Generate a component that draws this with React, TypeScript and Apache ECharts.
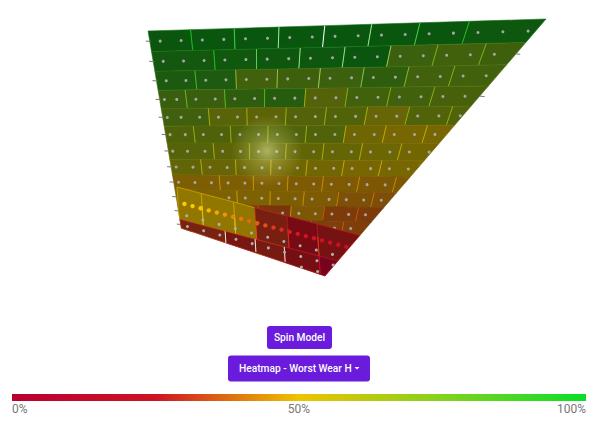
import React, { useEffect, useRef } from "react";
import * as echarts from "echarts";

// Wear (%) per brick, one list per tread row of the flat part of the mesh
const upperWear: number[][] = [
  [96, 97, 97, 97, 97, 97, 96, 95],
  [92, 93, 94, 95, 96, 75, 72, 74],
  [88, 87, 72, 74, 75, 80, 72, 72],
  [76, 76, 80, 84, 65, 72, 72, 70],
  [73, 63, 62, 65, 66, 58, 66, 66],
  [67, 67, 66, 66, 66, 55, 52, 52],
  [64, 62, 62, 60, 59, 56, 54, 52],
  [60, 58, 57, 55, 54, 52, 52, 50],
  [47, 47, 47, 46, 46, 45, 45, 42],
  [48, 48, 47, 46, 43, 42, 42, 40],
  [35, 35, 35, 35, 45, 37, 37, 37],
  [38, 38, 38, 38, 38, 38, 38, 38],
];
const upperFirstBrick = [2, 3, 2, 2, 3, 2, 3, 2, 3, 3, 2, 3];
const upperRowShift = [0, 0, 0, -0.6, -0.5, -0.4, -0.4, -0.2, -0.2, 0.8, -0.9, -0.6];
const rightTickRows = [1.5, 3.5];

// Folded lower part of the mesh
const lowerBrickStart = [0, 3, 7, 9.6, 13.6, 17.3, 0, 5.7, 9.4, 13, 17.3, 20];
const lowerBrickEnd = [3, 7, 9.6, 13.6, 17.3, 24, 5.7, 9.4, 13, 17.3, 20, 24];
const lowerBrickBand = [0, 0, 0, 0, 0, 0, 1, 1, 1, 1, 1, 1];
const lowerBrickWear = [50, 50, 50, 30, 25, 27, 31, 28, 29, 26, 9, 8];

// Highlighted sensor row along the fold
const sensorWear = [50, 50, 49, 47, 45, 42, 40, 38, 36, 35, 33, 30, 28, 26, 24, 22, 20, 18, 16, 15, 14];
const lowerDotRows = [2.5, 3.5, 4.5, 5.5];

const scaleStops: [number, number[]][] = [
  [0, [185, 0, 50]],
  [0.25, [205, 20, 35]],
  [0.5, [238, 195, 0]],
  [0.75, [130, 210, 30]],
  [1, [10, 222, 40]],
];
const scaleLabels = ["0%", "50%", "100%"];
const W = 600;
const H = 425;

type P = [number, number];
const upperQuad: P[] = [[148, 31], [546, 19], [450, 238], [182, 231]];
const lowerQuad: P[] = [[177, 187], [347, 232], [351, 296], [181, 251]];
const leftEdge: [P, P] = [[146.5, 22], [182, 232]];
const rightEdge: [P, P] = [[546, 19], [325, 276]];
const bottomEdge: [P, P] = [[181, 228], [325, 276]];

function homography(q: P[]) {
  const [[x0, y0], [x1, y1], [x2, y2], [x3, y3]] = q;
  const dx1 = x1 - x2, dx2 = x3 - x2, sx = x0 - x1 + x2 - x3;
  const dy1 = y1 - y2, dy2 = y3 - y2, sy = y0 - y1 + y2 - y3;
  const det = dx1 * dy2 - dx2 * dy1;
  const g = (sx * dy2 - dx2 * sy) / det;
  const h = (dx1 * sy - sx * dy1) / det;
  const a = x1 - x0 + g * x1, b = x3 - x0 + h * x3;
  const d = y1 - y0 + g * y1, e = y3 - y0 + h * y3;
  return (s: number, t: number): P => {
    const w = g * s + h * t + 1;
    return [(a * s + b * t + x0) / w, (d * s + e * t + y0) / w];
  };
}
const upperBase = homography(upperQuad);
const upperH = (s: number, t: number): P => upperBase(s, t - 0.13 * t * (1 - t));
const lowerH = homography(lowerQuad);

const side = (p: P, e: [P, P]) =>
  (e[1][0] - e[0][0]) * (p[1] - e[0][1]) - (e[1][1] - e[0][1]) * (p[0] - e[0][0]);

// Keep the part of a polygon on the positive side of the edge
function clip(poly: P[], e: [P, P], sign: number): P[] {
  const out: P[] = [];
  for (let i = 0; i < poly.length; i++) {
    const a = poly[i], b = poly[(i + 1) % poly.length];
    const sa = side(a, e) * sign, sb = side(b, e) * sign;
    if (sa >= 0) out.push(a);
    if (sa >= 0 !== sb >= 0) {
      const k = sa / (sa - sb);
      out.push([a[0] + (b[0] - a[0]) * k, a[1] + (b[1] - a[1]) * k]);
    }
  }
  return out;
}
const clipMesh = (poly: P[]) => clip(clip(clip(poly, rightEdge, 1), bottomEdge, -1), leftEdge, -1);
const inside = (p: P) => side(p, rightEdge) > 0 && side(p, bottomEdge) < 0 && side(p, leftEdge) < 0;

function scaleRgb(w: number) {
  const v = Math.max(0, Math.min(1, w / 100));
  for (let i = 1; i < scaleStops.length; i++) {
    if (v <= scaleStops[i][0]) {
      const [a, ca] = scaleStops[i - 1];
      const [b, cb] = scaleStops[i];
      const k = (v - a) / (b - a);
      return ca.map((c, j) => c + (cb[j] - c) * k);
    }
  }
  return scaleStops[scaleStops.length - 1][1];
}
const css = (c: number[]) => `rgb(${c.map((x) => Math.round(Math.min(255, x))).join(",")})`;
const lit = (w: number, gain = 1) => {
  const dim = (0.38 + (1 - w / 100) * 0.3) * gain;
  return css(scaleRgb(w).map((c) => c * dim));
};
const mixWhite = (c: number[], m: number) => c.map((x) => x + (255 - x) * m);

const project = (api: any, H2: (s: number, t: number) => P, u: number, v: number): P => {
  const c = api.coord([u, v]);
  return H2(c[0] / W, c[1] / H);
};

// Flat bricks as [start, end, row, wear]
const upperBricks: number[][] = [];
const upperDots: number[][] = [];
const rowTicks: number[][] = [];
upperWear.forEach((wears, r) => {
  const shift = upperRowShift[r];
  let start = 0;
  wears.forEach((w, i) => {
    const width = i === 0 ? upperFirstBrick[r] : 2;
    const end = i === wears.length - 1 ? 30 : start + width;
    upperBricks.push([Math.max(0, start + (i === 0 ? 0 : shift)), end + shift, r, w]);
    start += width;
  });
  for (let i = 0; i < 17; i++) upperDots.push([Math.max(0.25, i + 0.5 + shift), r + 0.5]);
  rowTicks.push([0, r + 0.5]);
});

const lowerBricks = lowerBrickStart.map((s, i) => [s, lowerBrickEnd[i], lowerBrickBand[i], lowerBrickWear[i]]);
const lowerDots: number[][] = [];
lowerDotRows.forEach((q) => {
  for (let p = 1; p < 22; p += 2) lowerDots.push([p, q]);
});
const sensors = sensorWear.map((w, i) => [i + 0.8, 1.43, w]);

const option: any = {
  animation: false,
  grid: [
    { left: 0, top: 0, width: W, height: H },
    { left: 0, top: 0, width: W, height: H },
  ],
  xAxis: [
    { type: "value", min: 0, max: 17, show: false, gridIndex: 0 },
    { type: "value", min: 0, max: 21, show: false, gridIndex: 1 },
  ],
  yAxis: [
    { type: "value", min: 0, max: 12, inverse: true, show: false, gridIndex: 0 },
    { type: "value", min: 0, max: 6, inverse: true, show: false, gridIndex: 1 },
  ],
  series: [
    {
      type: "custom",
      xAxisIndex: 0,
      yAxisIndex: 0,
      silent: true,
      data: upperBricks,
      renderItem: (_: any, api: any) => {
        const u0 = api.value(0), u1 = api.value(1), r = api.value(2), w = api.value(3);
        const pts = clipMesh([
          project(api, upperH, u0, r),
          project(api, upperH, u1, r),
          project(api, upperH, u1, r + 1),
          project(api, upperH, u0, r + 1),
        ]);
        const children: any[] = [];
        if (pts.length > 2) {
          children.push({
            type: "polygon",
            shape: { points: pts },
            style: { fill: lit(w), stroke: css(scaleRgb(w).map((c) => c * 0.52)), lineWidth: 0.6 },
          });
        }
        const a = project(api, upperH, u0, r);
        const b = project(api, upperH, u0, r + 1);
        if (u0 > 0 && inside(a) && inside(b)) {
          const m = Math.max(0, 1 - Math.abs(u0 - 8) / 5) * Math.max(0, 1 - r / 3);
          children.push({
            type: "line",
            shape: { x1: a[0], y1: a[1], x2: b[0], y2: b[1] },
            style: { stroke: css(mixWhite(scaleRgb(w).map((c) => c * 0.85), m)), lineWidth: 1 },
          });
        }
        return { type: "group", children };
      },
    },
    {
      type: "custom",
      xAxisIndex: 0,
      yAxisIndex: 0,
      silent: true,
      data: rowTicks,
      renderItem: (_: any, api: any) => {
        const a = project(api, upperH, api.value(0), api.value(1));
        return {
          type: "line",
          shape: { x1: a[0] - 4, y1: a[1] - 0.3, x2: a[0] + 1, y2: a[1] },
          style: { stroke: "#777", lineWidth: 1 },
        };
      },
    },
    {
      type: "custom",
      xAxisIndex: 0,
      yAxisIndex: 0,
      silent: true,
      data: rightTickRows.map((v) => [10, v]),
      renderItem: (_: any, api: any) => {
        let u = api.value(0);
        const v = api.value(1);
        while (u < 30 && inside(project(api, upperH, u, v))) u += 0.05;
        const a = project(api, upperH, u, v);
        return {
          type: "line",
          shape: { x1: a[0] - 1, y1: a[1], x2: a[0] + 4, y2: a[1] + 0.5 },
          style: { stroke: "#777", lineWidth: 1 },
        };
      },
    },
    {
      type: "custom",
      xAxisIndex: 0,
      yAxisIndex: 0,
      silent: true,
      data: upperDots,
      renderItem: (_: any, api: any) => {
        const a = project(api, upperH, api.value(0), api.value(1));
        if (!inside(a)) return null;
        return { type: "circle", shape: { cx: a[0], cy: a[1], r: 1.5 }, style: { fill: "#a8a8a8" } };
      },
    },
    {
      type: "custom",
      xAxisIndex: 1,
      yAxisIndex: 1,
      silent: true,
      z: 3,
      data: lowerBricks,
      renderItem: (_: any, api: any) => {
        const p0 = api.value(0), p1 = api.value(1), band = api.value(2), w = api.value(3);
        const q0 = band === 0 ? 0 : 3;
        const q1 = band === 0 ? 3 : 6;
        const pts = clipMesh([
          project(api, lowerH, p0, q0),
          project(api, lowerH, p1, q0),
          project(api, lowerH, p1, q1),
          project(api, lowerH, p0, q1),
        ]);
        const children: any[] = [];
        if (pts.length > 2) {
          children.push({
            type: "polygon",
            shape: { points: pts },
            style: { fill: lit(w, w >= 45 ? 1.15 : 0.95), stroke: css(scaleRgb(w).map((c) => c * 0.85)), lineWidth: 0.8 },
          });
        }
        const a = project(api, lowerH, p0, q0 + (band === 0 ? 1.2 : 0));
        let qEnd = band === 0 ? q1 : q0 + 2.2;
        while (qEnd > q0 && !inside(project(api, lowerH, p0, qEnd))) qEnd -= 0.1;
        const b = project(api, lowerH, p0, qEnd);
        if (p0 > 0 && inside(a)) {
          children.push({
            type: "line",
            shape: { x1: a[0], y1: a[1], x2: b[0], y2: b[1] },
            style: { stroke: band === 1 && p0 < 14 ? "#f0e6d8" : css(scaleRgb(w + 4)), lineWidth: 1 },
          });
        }
        return { type: "group", children };
      },
    },
    {
      type: "custom",
      xAxisIndex: 1,
      yAxisIndex: 1,
      silent: true,
      z: 4,
      data: lowerDots,
      renderItem: (_: any, api: any) => {
        const a = project(api, lowerH, api.value(0), api.value(1));
        if (!inside(a)) return null;
        return { type: "circle", shape: { cx: a[0], cy: a[1], r: 1.5 }, style: { fill: "#b0b0b0" } };
      },
    },
    {
      type: "custom",
      xAxisIndex: 1,
      yAxisIndex: 1,
      silent: true,
      z: 5,
      data: sensors,
      renderItem: (_: any, api: any) => {
        const a = project(api, lowerH, api.value(0), api.value(1));
        return {
          type: "circle",
          shape: { cx: a[0], cy: a[1], r: 2.2 },
          style: { fill: css(scaleRgb(api.value(2)).map((c) => c * 1.05)) },
        };
      },
    },
  ],
  graphic: [
    {
      type: "circle",
      z: 20,
      silent: true,
      shape: { cx: 267, cy: 151, r: 36 },
      style: {
        fill: {
          type: "radial",
          x: 0.5,
          y: 0.5,
          r: 0.5,
          colorStops: [
            { offset: 0, color: "rgba(255,255,190,0.5)" },
            { offset: 0.35, color: "rgba(255,255,170,0.25)" },
            { offset: 1, color: "rgba(255,255,150,0)" },
          ],
        },
      },
    },
    {
      type: "rect",
      z: 30,
      shape: { x: 267, y: 326, width: 65, height: 23, r: 3 },
      style: { fill: "#6a1bdc" },
    },
    {
      type: "text",
      z: 31,
      x: 299.5,
      y: 337.5,
      style: {
        text: "Spin Model",
        fill: "#ffffff",
        font: "500 10.2px Roboto",
        align: "center",
        verticalAlign: "middle",
      },
    },
    {
      type: "rect",
      z: 30,
      shape: { x: 228, y: 355.5, width: 142, height: 26, r: 3 },
      style: { fill: "#6a1bdc" },
    },
    {
      type: "text",
      z: 31,
      x: 239,
      y: 368.5,
      style: {
        text: "Heatmap - Worst Wear H",
        fill: "#ffffff",
        font: "500 10.2px Roboto",
        align: "left",
        verticalAlign: "middle",
      },
    },
    {
      type: "polygon",
      z: 31,
      shape: { points: [[354.5, 367], [359.5, 367], [357, 369.5]] },
      style: { fill: "#ffffff" },
    },
    {
      type: "rect",
      z: 30,
      shape: { x: 12, y: 394, width: 574, height: 7 },
      style: {
        fill: {
          type: "linear",
          x: 0,
          y: 0,
          x2: 1,
          y2: 0,
          colorStops: scaleStops.map(([offset, c]) => ({ offset, color: css(c) })),
        },
      },
    },
    ...scaleLabels.map((t, i) => ({
      type: "text",
      z: 31,
      x: [12, 299, 586][i],
      y: 408.5,
      style: {
        text: t,
        fill: "#777777",
        font: "12px Roboto",
        align: ["left", "center", "right"][i],
        verticalAlign: "middle",
      },
    })),
  ],
};

export default function App() {
  const ref = useRef<HTMLDivElement>(null);
  useEffect(() => {
    document.body.style.margin = "0";
    const chart = echarts.init(ref.current as HTMLDivElement, undefined, { renderer: "svg" });
    chart.setOption(option);
    return () => chart.dispose();
  }, []);
  return <div ref={ref} style={{ width: W, height: H, background: "#fff" }} />;
}
